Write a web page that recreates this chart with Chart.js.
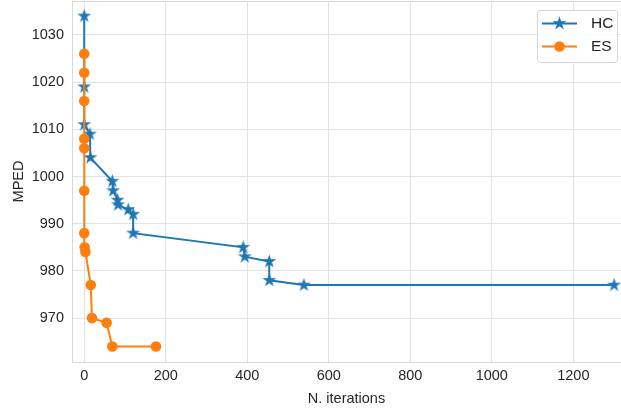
<!DOCTYPE html>
<html>
<head>
<meta charset="utf-8">
<script src="https://cdn.jsdelivr.net/npm/chart.js@4"></script>
<style>
  html, body { margin: 0; padding: 0; background: #fff; }
  canvas { display: block; }
</style>
</head>
<body>
<canvas id="chart" width="621" height="409"></canvas>
<script>
// Hill climbing (HC) run: iteration count vs. MPED
const hcIter = [0, 0, 0, 14, 15, 69, 71, 82, 83, 108, 120, 120, 390, 394, 454, 454, 539, 1300];
const hcMped = [1034, 1019, 1011, 1009, 1004, 999, 997, 995, 994, 993, 992, 988, 985, 983, 982, 978, 977, 977];

// Evolution strategy (ES) run: iteration count vs. MPED
const esIter = [0, 0, 0, 0, 0, 0, 0, 1, 3, 16, 19, 55, 69, 176];
const esMped = [1026, 1022, 1016, 1008, 1006, 997, 988, 985, 984, 977, 970, 969, 964, 964];

const seriesNames = ['HC', 'ES'];
const xTicks = [0, 200, 400, 600, 800, 1000, 1200];
const yTicks = [970, 980, 990, 1000, 1010, 1020, 1030];

const BLUE = '#1f77b4';
const ORANGE = '#ff7f0e';
const TEXT = '#262626';
const FONT = "'Liberation Sans', Arial, sans-serif";

Chart.defaults.font.family = FONT;
Chart.defaults.color = TEXT;

// Filled five-pointed star used as the HC marker
function starMarker(color, r) {
  const s = Math.ceil(r * 2 + 4);
  const cv = document.createElement('canvas');
  cv.width = s; cv.height = s;
  const g = cv.getContext('2d');
  g.translate(s / 2, s / 2);
  g.beginPath();
  for (let i = 0; i < 10; i++) {
    const a = -Math.PI / 2 + i * Math.PI / 5;
    const rr = i % 2 ? r * 0.382 : r;
    g.lineTo(rr * Math.cos(a), rr * Math.sin(a));
  }
  g.closePath();
  g.fillStyle = color;
  g.fill();
  g.lineWidth = 1.2;
  g.strokeStyle = color;
  g.stroke();
  return cv;
}
const star = starMarker(BLUE, 5.4);

const toPoints = (xs, ys) => xs.map((x, i) => ({ x, y: ys[i] }));

// Light frame along the top edge of the plot area
const topFrame = {
  id: 'topFrame',
  beforeDatasetsDraw(chart) {
    const { ctx, chartArea: a } = chart;
    ctx.save();
    ctx.strokeStyle = '#d9d9d9';
    ctx.lineWidth = 1;
    ctx.beginPath();
    ctx.moveTo(a.left, a.top + 0.5);
    ctx.lineTo(a.right, a.top + 0.5);
    ctx.stroke();
    ctx.restore();
  }
};

// Boxed legend with a line segment and marker for each series
const boxLegend = {
  id: 'boxLegend',
  afterDatasetsDraw(chart) {
    const { ctx } = chart;
    const bx = 537.5, by = 10.5, bw = 80, bh = 52, r = 3;
    ctx.save();
    ctx.beginPath();
    ctx.moveTo(bx + r, by);
    ctx.arcTo(bx + bw, by, bx + bw, by + bh, r);
    ctx.arcTo(bx + bw, by + bh, bx, by + bh, r);
    ctx.arcTo(bx, by + bh, bx, by, r);
    ctx.arcTo(bx, by, bx + bw, by, r);
    ctx.closePath();
    ctx.fillStyle = 'rgba(255,255,255,0.85)';
    ctx.fill();
    ctx.strokeStyle = '#d6d6d6';
    ctx.lineWidth = 1;
    ctx.stroke();

    const rows = [23.5, 46.5];
    chart.data.datasets.forEach((ds, i) => {
      const y = rows[i];
      ctx.strokeStyle = ds.borderColor;
      ctx.lineWidth = 2;
      ctx.beginPath();
      ctx.moveTo(542, y);
      ctx.lineTo(577, y);
      ctx.stroke();
      if (i === 0) {
        ctx.drawImage(star, 559.5 - star.width / 2, y - star.height / 2);
      } else {
        ctx.fillStyle = ds.backgroundColor;
        ctx.beginPath();
        ctx.arc(559.5, y, 5.3, 0, Math.PI * 2);
        ctx.fill();
      }
      ctx.fillStyle = TEXT;
      ctx.font = '15.5px ' + FONT;
      ctx.textBaseline = 'middle';
      ctx.textAlign = 'left';
      ctx.fillText(ds.label, 591, y + 0.5);
    });
    ctx.restore();
  }
};

const plain = v => String(v);

new Chart(document.getElementById('chart'), {
  type: 'line',
  data: {
    datasets: [
      {
        label: seriesNames[0],
        data: toPoints(hcIter, hcMped),
        borderColor: BLUE,
        backgroundColor: BLUE,
        borderWidth: 2,
        pointStyle: star,
        pointRadius: 5,
        tension: 0,
        order: 1
      },
      {
        label: seriesNames[1],
        data: toPoints(esIter, esMped),
        borderColor: ORANGE,
        backgroundColor: ORANGE,
        borderWidth: 2,
        pointStyle: 'circle',
        pointRadius: 5.3,
        pointBorderWidth: 0,
        tension: 0,
        order: 0
      }
    ]
  },
  options: {
    responsive: false,
    animation: false,
    layout: { autoPadding: false, padding: { top: 1, right: 0, bottom: 0, left: 0 } },
    plugins: { legend: { display: false }, tooltip: { enabled: false } },
    scales: {
      x: {
        type: 'linear',
        min: -30,
        max: 1317,
        afterFit: s => { s.height = 47; s.paddingLeft = 0; s.paddingRight = 0; },
        afterBuildTicks: s => { s.ticks = xTicks.map(v => ({ value: v })); },
        grid: { color: '#e2e2e2', lineWidth: 1, drawTicks: false },
        border: { display: true, color: '#d9d9d9', width: 1 },
        ticks: { padding: 5, color: TEXT, font: { size: 14.5 }, maxRotation: 0, callback: plain },
        title: { display: true, text: 'N. iterations', color: TEXT, font: { size: 14.5 }, padding: { top: 0, bottom: 1 } }
      },
      y: {
        type: 'linear',
        min: 960.7,
        max: 1037.2,
        afterFit: s => { s.width = 72; s.paddingTop = 0; s.paddingBottom = 0; },
        afterBuildTicks: s => { s.ticks = yTicks.map(v => ({ value: v })); },
        grid: { color: '#e2e2e2', lineWidth: 1, drawTicks: false },
        border: { display: true, color: '#d9d9d9', width: 1 },
        ticks: { padding: 8, color: TEXT, font: { size: 14.5 }, callback: plain },
        title: { display: true, text: 'MPED', color: TEXT, font: { size: 14.5 }, padding: { top: 10, bottom: 0 } }
      }
    }
  },
  plugins: [topFrame, boxLegend]
});
</script>
</body>
</html>
